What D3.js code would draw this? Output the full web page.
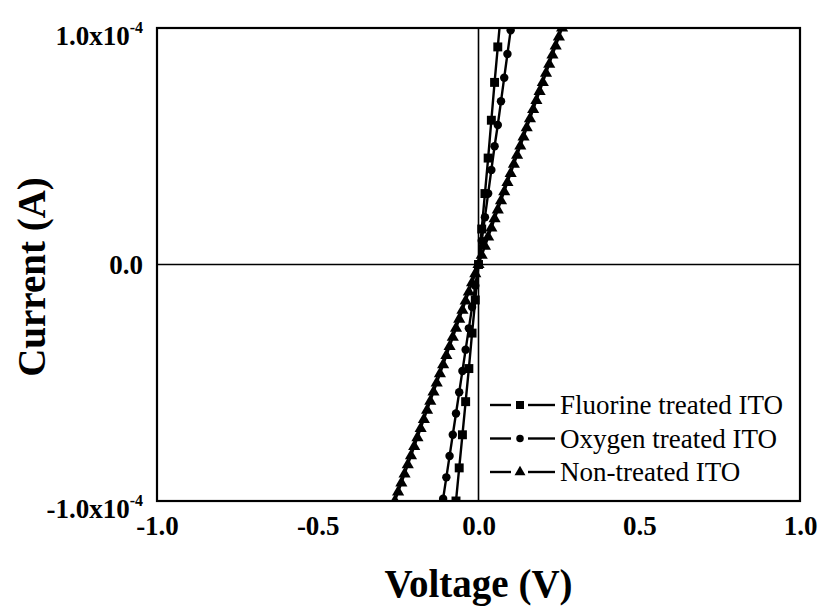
<!DOCTYPE html>
<html><head><meta charset="utf-8">
<script src="https://cdn.jsdelivr.net/npm/d3@7"></script>
<style>body{margin:0;background:#fff}svg{display:block}</style>
</head><body>
<svg id="chart" width="833" height="611"></svg>
<script>
// ---- data ----
const seriesNames = ["Fluorine treated ITO", "Oxygen treated ITO", "Non-treated ITO"];
const fluorineV = [-0.07,-0.06,-0.05,-0.04,-0.03,-0.02,-0.01,0,0.01,0.02,0.03,0.04,0.05,0.06,0.07];
const fluorineI = [-10.0e-5,-8.6e-5,-7.2e-5,-5.8e-5,-4.4e-5,-2.9e-5,-1.5e-5,0,1.5e-5,3.0e-5,4.5e-5,6.1e-5,7.7e-5,9.2e-5,10.7e-5];
const oxygenV = [-0.11,-0.10,-0.09,-0.08,-0.07,-0.06,-0.05,-0.04,-0.03,-0.02,-0.01,0,0.01,0.02,0.03,0.04,0.05,0.06,0.07,0.08,0.09,0.10];
const oxygenI = [-9.9e-5,-9.0e-5,-8.1e-5,-7.2e-5,-6.3e-5,-5.4e-5,-4.5e-5,-3.6e-5,-2.7e-5,-1.8e-5,-0.9e-5,0,1.0e-5,2.0e-5,3.0e-5,4.0e-5,5.0e-5,5.9e-5,6.9e-5,7.9e-5,8.9e-5,9.9e-5];
const nonV = [-0.26,-0.25,-0.24,-0.23,-0.22,-0.21,-0.20,-0.19,-0.18,-0.17,-0.16,-0.15,-0.14,-0.13,-0.12,-0.11,-0.10,-0.09,-0.08,-0.07,-0.06,-0.05,-0.04,-0.03,-0.02,-0.01,0,0.01,0.02,0.03,0.04,0.05,0.06,0.07,0.08,0.09,0.10,0.11,0.12,0.13,0.14,0.15,0.16,0.17,0.18,0.19,0.20,0.21,0.22,0.23,0.24,0.25,0.26];
const nonI = [-10.0e-5,-9.62e-5,-9.24e-5,-8.86e-5,-8.47e-5,-8.09e-5,-7.70e-5,-7.32e-5,-6.93e-5,-6.55e-5,-6.16e-5,-5.78e-5,-5.39e-5,-5.01e-5,-4.62e-5,-4.24e-5,-3.85e-5,-3.47e-5,-3.08e-5,-2.70e-5,-2.31e-5,-1.93e-5,-1.54e-5,-1.16e-5,-0.77e-5,-0.39e-5,0,0.39e-5,0.77e-5,1.16e-5,1.54e-5,1.93e-5,2.31e-5,2.70e-5,3.08e-5,3.47e-5,3.85e-5,4.24e-5,4.62e-5,5.01e-5,5.39e-5,5.78e-5,6.16e-5,6.55e-5,6.93e-5,7.32e-5,7.70e-5,8.09e-5,8.47e-5,8.86e-5,9.24e-5,9.62e-5,10.0e-5];
const xTickValues = [-1.0,-0.5,0.0,0.5,1.0];
const xTickLabels = ["-1.0","-0.5","0.0","0.5","1.0"];
const yTickValues = [-1e-4, 0, 1e-4];
const yTickBase = ["-1.0x10", "0.0", "1.0x10"];
const yTickExp = ["-4", "", "-4"];
const xTitle = "Voltage (V)";
const yTitle = "Current (A)";

// ---- layout ----
const svg = d3.select("#chart");
const W = 833, H = 611;
const m = {left:157, right:33, top:28, bottom:110};
const pw = W - m.left - m.right, ph = H - m.top - m.bottom;
const font = "'Liberation Serif','Times New Roman',serif";

const x = d3.scaleLinear().domain([-1,1]).range([0,pw]);
const y = d3.scaleLinear().domain([-1e-4,1e-4]).range([ph,0]);

const g = svg.append("g").attr("transform",`translate(${m.left},${m.top})`);
svg.append("defs").append("clipPath").attr("id","clip")
  .append("rect").attr("x",0).attr("y",0).attr("width",pw).attr("height",ph);

// zero lines
g.append("line").attr("x1",0).attr("x2",pw).attr("y1",y(0)).attr("y2",y(0))
  .attr("stroke","#000").attr("stroke-width",1.6);
g.append("line").attr("x1",x(0)).attr("x2",x(0)).attr("y1",0).attr("y2",ph)
  .attr("stroke","#000").attr("stroke-width",1.6);

// axes (labels only, no ticks)
const xAxis = g.append("g").attr("transform",`translate(0,${ph})`)
  .call(d3.axisBottom(x).tickValues(xTickValues).tickSize(0).tickPadding(14)
    .tickFormat((d,i)=>xTickLabels[i]));
xAxis.select(".domain").remove();
xAxis.selectAll("text").attr("font-family",font).attr("font-weight","bold")
  .attr("font-size",27).attr("fill","#000").attr("y",34).attr("dy",null);

const yAxis = g.append("g")
  .call(d3.axisLeft(y).tickValues(yTickValues).tickSize(0).tickPadding(12).tickFormat(""));
yAxis.select(".domain").remove();
yAxis.selectAll(".tick").each(function(d,i){
  const t = d3.select(this).select("text")
    .attr("font-family",font).attr("font-weight","bold").attr("font-size",27)
    .attr("fill","#000").attr("dy", yTickExp[i] ? "0.62em" : "0.35em")
    .attr("x", yTickExp[i] ? -14 : -14);
  t.text(null);
  t.append("tspan").text(yTickBase[i]);
  if (yTickExp[i]) t.append("tspan").attr("dy","-0.75em").attr("font-size",16).text(yTickExp[i]);
});

// series
const series = [
  {name:seriesNames[0], v:fluorineV, i:fluorineI, sym:d3.symbolSquare, size:80},
  {name:seriesNames[1], v:oxygenV, i:oxygenI, sym:d3.symbolCircle, size:56},
  {name:seriesNames[2], v:nonV, i:nonI, sym:d3.symbolTriangle, size:64}
];
const plot = g.append("g").attr("clip-path","url(#clip)");
const line = d3.line().x(d=>x(d[0])).y(d=>y(d[1]));
series.forEach(s=>{
  const pts = s.v.map((v,k)=>[v, s.i[k]]);
  plot.append("path").datum(pts).attr("d",line).attr("fill","none")
    .attr("stroke","#000").attr("stroke-width",2.4);
  plot.selectAll(null).data(pts).enter().append("path")
    .attr("d", d3.symbol().type(s.sym).size(s.size))
    .attr("transform",d=>`translate(${x(d[0])},${y(d[1])})`)
    .attr("fill","#000");
});

// frame
g.append("rect").attr("x",0).attr("y",0).attr("width",pw).attr("height",ph)
  .attr("fill","none").attr("stroke","#000").attr("stroke-width",2.2);

// legend
const lg = g.append("g").attr("transform",`translate(${490-m.left},${405-m.top})`);
const legendSizes = [64, 44, 52];
series.forEach((s,k)=>{
  const row = lg.append("g").attr("transform",`translate(0,${k*33.5})`);
  row.append("line").attr("x1",0).attr("x2",21).attr("y1",0).attr("y2",0).attr("stroke","#000").attr("stroke-width",2.4);
  row.append("line").attr("x1",38).attr("x2",65).attr("y1",0).attr("y2",0).attr("stroke","#000").attr("stroke-width",2.4);
  row.append("path").attr("d",d3.symbol().type(s.sym).size(legendSizes[k])).attr("transform","translate(30,0)").attr("fill","#000");
  row.append("text").attr("x",70).attr("y",0).attr("dy","0.35em")
    .attr("font-family",font).attr("font-size",27).attr("fill","#000").text(s.name);
});

// titles
svg.append("text").attr("x",m.left+x(0)).attr("y",597).attr("text-anchor","middle")
  .attr("font-family",font).attr("font-weight","bold").attr("font-size",39).attr("fill","#000").text(xTitle);
svg.append("text").attr("transform",`translate(45,277) rotate(-90)`).attr("text-anchor","middle")
  .attr("font-family",font).attr("font-weight","bold").attr("font-size",39).attr("fill","#000").text(yTitle);
</script>
</body></html>
